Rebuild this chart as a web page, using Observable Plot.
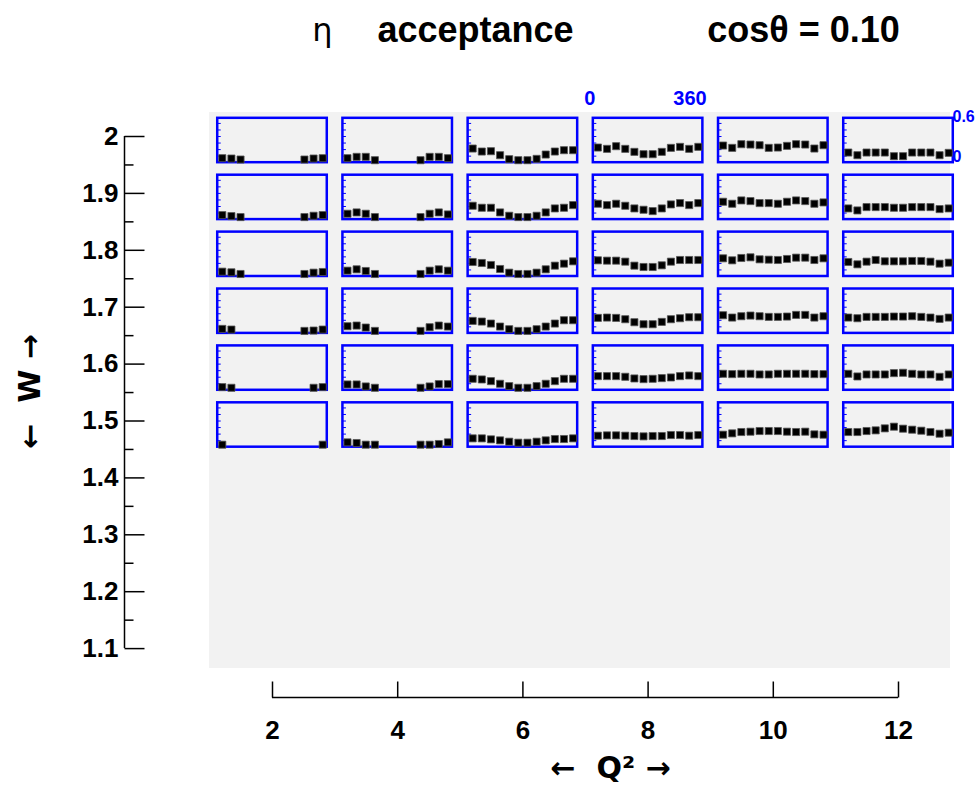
<!DOCTYPE html>
<html>
<head>
<meta charset="utf-8">
<script src="https://cdn.jsdelivr.net/npm/d3@7"></script>
<script src="https://cdn.jsdelivr.net/npm/@observablehq/plot@0.6"></script>
<style>body{margin:0;background:#fff}</style>
</head>
<body>
<div id="chart"></div>
<script>
const n = null;
const q2Bins = [2, 4, 6, 8, 10, 12];
const wBins = [2.0, 1.9, 1.8, 1.7, 1.6, 1.5];
const yTicks = [2.0, 1.9, 1.8, 1.7, 1.6, 1.5, 1.4, 1.3, 1.2, 1.1];
const phiLabels = ["0", "360"];
const accLabels = ["0.6", "0"];

// acceptance vs phi (12 bins), rows = W (top->bottom), cols = Q2
const accW200 = [
  [0.03,0.025,0.01,n,n,n,n,n,n,0.01,0.025,0.03],
  [0.03,0.05,0.05,0,n,n,n,n,0,0.05,0.05,0.03],
  [0.175,0.13,0.135,0.075,0.015,0,0,0.02,0.085,0.13,0.15,0.15],
  [0.19,0.17,0.21,0.17,0.125,0.09,0.09,0.125,0.185,0.2,0.17,0.2],
  [0.22,0.185,0.24,0.235,0.225,0.185,0.19,0.215,0.24,0.235,0.175,0.225],
  [0.115,0.075,0.115,0.115,0.115,0.06,0.06,0.115,0.115,0.115,0.075,0.11]
];
const accW190 = [
  [0.03,0.015,0,n,n,n,n,n,n,0,0.02,0.03],
  [0.05,0.07,0.05,0,n,n,n,n,0,0.05,0.07,0.04],
  [0.17,0.14,0.14,0.07,0.02,0,0,0.02,0.07,0.13,0.14,0.18],
  [0.2,0.18,0.2,0.17,0.13,0.11,0.09,0.13,0.19,0.21,0.18,0.21],
  [0.23,0.2,0.25,0.24,0.21,0.21,0.2,0.23,0.25,0.24,0.2,0.22],
  [0.13,0.1,0.15,0.15,0.15,0.14,0.14,0.15,0.15,0.15,0.12,0.13]
];
const accW180 = [
  [0.035,0.025,0,n,n,n,n,n,n,0,0.02,0.03],
  [0.05,0.07,0.045,0,n,n,n,n,0,0.05,0.07,0.05],
  [0.18,0.165,0.135,0.075,0.02,0,0,0.02,0.07,0.125,0.155,0.19],
  [0.205,0.2,0.2,0.185,0.125,0.105,0.105,0.13,0.185,0.21,0.21,0.21],
  [0.235,0.205,0.24,0.25,0.22,0.215,0.21,0.225,0.245,0.245,0.21,0.235],
  [0.18,0.145,0.185,0.21,0.19,0.19,0.19,0.195,0.195,0.185,0.155,0.17]
];
const accW170 = [
  [0.03,0.02,n,n,n,n,n,n,n,0,0.005,0.02],
  [0.07,0.08,0.05,0,n,n,n,n,0,0.055,0.08,0.065],
  [0.15,0.14,0.11,0.065,0.025,0,0,0.025,0.065,0.11,0.16,0.16],
  [0.195,0.2,0.195,0.175,0.13,0.1,0.1,0.135,0.175,0.19,0.205,0.205],
  [0.235,0.2,0.22,0.23,0.22,0.21,0.21,0.215,0.24,0.24,0.2,0.22],
  [0.2,0.19,0.21,0.21,0.21,0.215,0.215,0.22,0.21,0.2,0.18,0.2]
];
const accW160 = [
  [0.01,0,n,n,n,n,n,n,n,n,0,0.01],
  [0.05,0.05,0.02,0,n,n,n,n,0,0.02,0.055,0.055],
  [0.135,0.125,0.1,0.06,0.025,0,0,0.025,0.06,0.1,0.135,0.135],
  [0.175,0.175,0.175,0.165,0.14,0.13,0.135,0.145,0.155,0.175,0.185,0.175],
  [0.21,0.205,0.21,0.21,0.2,0.2,0.21,0.21,0.21,0.21,0.205,0.205],
  [0.21,0.17,0.2,0.2,0.2,0.22,0.225,0.21,0.2,0.2,0.165,0.2]
];
const accW150 = [
  [0,n,n,n,n,n,n,n,n,n,n,0],
  [0.035,0.025,0,0,n,n,n,n,0,0,0.01,0.035],
  [0.095,0.095,0.08,0.065,0.045,0.03,0.03,0.045,0.065,0.085,0.085,0.095],
  [0.135,0.14,0.14,0.135,0.13,0.125,0.13,0.13,0.145,0.145,0.135,0.145],
  [0.15,0.17,0.19,0.195,0.205,0.205,0.205,0.195,0.19,0.195,0.155,0.15],
  [0.19,0.19,0.205,0.215,0.245,0.27,0.24,0.225,0.21,0.19,0.165,0.18]
];
const accRows = [accW200, accW190, accW180, accW170, accW160, accW150];

// pixel geometry
const pxQ = 62.6, pxW = 569;
const halfQ = 0.875, halfW = 0.039, shiftW = 4 / pxW;
const boxes = [], points = [], leftTicks = [];
wBins.forEach((w0, r) => q2Bins.forEach((q, c) => {
  const w = w0 - shiftW;
  boxes.push({x1: q - halfQ, x2: q + halfQ, y1: w - halfW, y2: w + halfW});
  for (let k = 1; k <= 6; k++) {
    const yy = w - halfW + k * 0.0115;
    leftTicks.push({x1: q - halfQ, x2: q - halfQ + 3 / pxQ, y: yy});
  }
  accRows[r][c].forEach((v, i) => {
    if (v == null) return;
    points.push({
      x: q - halfQ + (i + 0.5) * (2 * halfQ) / 12,
      y: w - halfW + 2.5 / pxW + v / 0.6 * (40 / pxW)
    });
  });
}));

const minorY = d3.range(1.15, 2.0, 0.1);
const font = "Liberation Sans, Arial, sans-serif";
const axX = 124 / pxQ, x0 = 2 - 272 / pxQ;

const chart = Plot.plot({
  width: 980, height: 792,
  margin: 0,
  x: {domain: [x0, x0 + 980 / pxQ], axis: null},
  y: {domain: [2 - 656 / pxW, 2 + 136 / pxW], axis: null},
  style: {fontFamily: font, background: "white"},
  marks: [
    Plot.rect([0], {x1: 2 - 63 / pxQ, x2: 2 + 678 / pxQ, y1: 2 + 24 / pxW, y2: 2 - 532 / pxW, fill: "#f2f2f2"}),
    Plot.rect(boxes, {x1: "x1", x2: "x2", y1: "y1", y2: "y2", stroke: "#0000ff", strokeWidth: 2.5, fill: "none"}),
    Plot.link(leftTicks, {x1: "x1", x2: "x2", y1: "y", y2: "y", stroke: "#0000ff", strokeWidth: 1}),
    Plot.dot(points, {x: "x", y: "y", symbol: "square", r: 4, fill: "black", stroke: "#555", strokeWidth: 0.8}),
    // Y axis
    Plot.ruleX([0], {x: x0 + axX, y1: 2, y2: 1.1, stroke: "black", strokeWidth: 1.5}),
    Plot.link(yTicks, {x1: x0 + axX, x2: x0 + 144 / pxQ, y1: d => d, y2: d => d, stroke: "black", strokeWidth: 1.5}),
    Plot.link(minorY, {x1: x0 + axX, x2: x0 + 133 / pxQ, y1: d => d, y2: d => d, stroke: "black", strokeWidth: 1.5}),
    Plot.text(yTicks, {x: x0 + 118 / pxQ, y: d => d, text: d => d3.format("~g")(d), textAnchor: "end", fontSize: 26, fontWeight: "bold"}),
    Plot.text(["\u2190  W \u2192"], {x: x0 + 30 / pxQ, y: 2 - 255 / pxW, rotate: -90, fontSize: 30, fontWeight: "bold", fontFamily: "DejaVu Sans"}),
    // X axis
    Plot.ruleY([0], {y: 2 - 561 / pxW, x1: 2, x2: 12, stroke: "black", strokeWidth: 1.5}),
    Plot.link(q2Bins, {x1: d => d, x2: d => d, y1: 2 - 561 / pxW, y2: 2 - 545 / pxW, stroke: "black", strokeWidth: 1.5}),
    Plot.text(q2Bins, {x: d => d, y: 2 - 594 / pxW, text: d => String(d), fontSize: 26, fontWeight: "bold"}),
    Plot.text(["\u2190  Q\u00b2 \u2192"], {x: 2 + 338 / pxQ, y: 2 - 632 / pxW, fontSize: 30, fontWeight: "bold", fontFamily: "DejaVu Sans"}),
    // panel scale labels
    Plot.text(phiLabels, {x: (d, i) => 8 + (i === 0 ? -0.93 : 0.67), y: 2 + 38 / pxW, text: d => d, fill: "#0000ff", fontSize: 20, fontWeight: "bold"}),
    Plot.text(accLabels, {x: 12 + 54 / pxQ, y: (d, i) => 2 + (i === 0 ? 20 : -20) / pxW, text: d => d, textAnchor: "start", fill: "#0000ff", fontSize: 16, fontWeight: "bold"}),
    // title
    Plot.text(["\u03b7"], {x: 2 + 50 / pxQ, y: 2 + 106 / pxW, fontSize: 32, fontFamily: "DejaVu Sans"}),
    Plot.text(["acceptance"], {x: 2 + 203 / pxQ, y: 2 + 106 / pxW, fontSize: 36, fontWeight: "bold"}),
    Plot.text(["cos\u03b8 = 0.10"], {x: 2 + 531 / pxQ, y: 2 + 106 / pxW, fontSize: 36, fontWeight: "bold"})
  ]
});
document.getElementById("chart").append(chart);
</script>
</body>
</html>
